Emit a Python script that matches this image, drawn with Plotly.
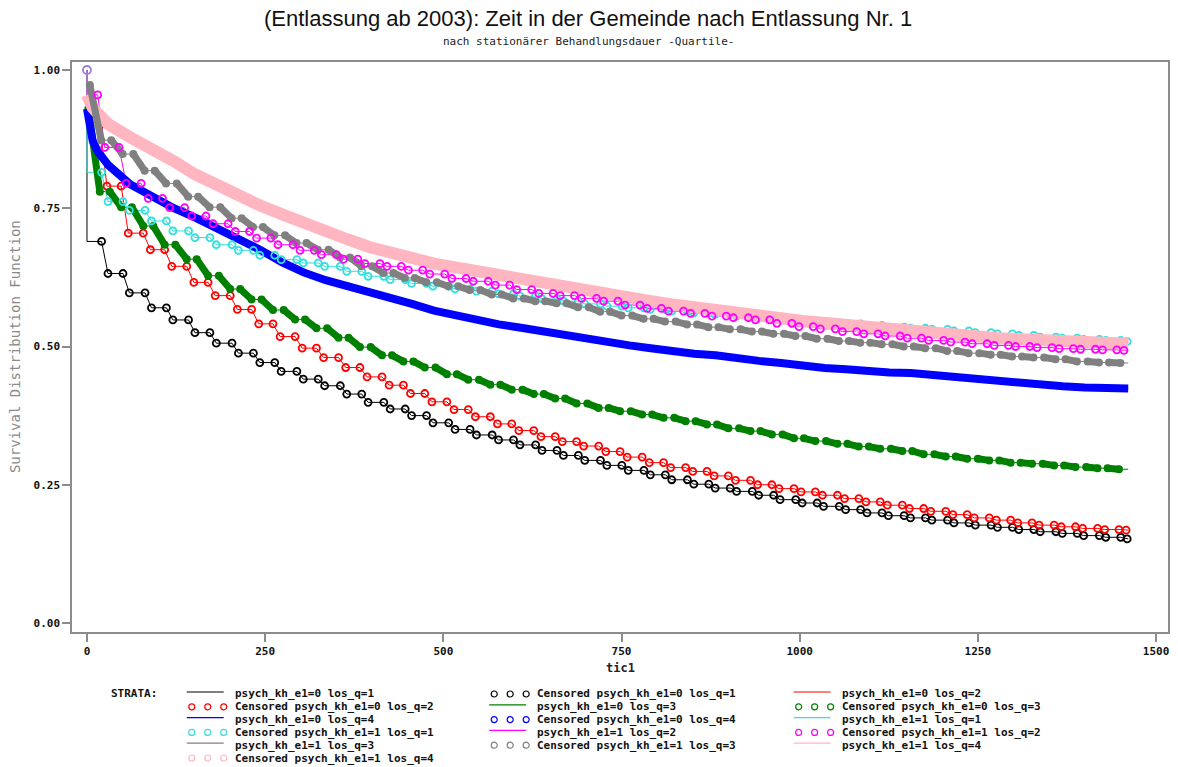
import plotly.graph_objects as go

# Follow-up grid in days (month ends, 4 years)
month_end = [0, 30, 61, 91, 122, 152, 183, 213, 243, 274, 304, 335, 365, 396, 426,
             456, 487, 517, 548, 578, 609, 639, 669, 700, 730, 761, 791, 822, 852,
             882, 913, 943, 974, 1004, 1035, 1065, 1095, 1126, 1156, 1187, 1217,
             1248, 1278, 1308, 1339, 1369, 1400, 1430, 1461]

# Kaplan-Meier survival level after each monthly step (index 0 = level right after t=0)
surv_e0_q1 = [0.690, 0.632, 0.597, 0.570, 0.548, 0.525, 0.506, 0.488, 0.471, 0.455,
              0.441, 0.429, 0.414, 0.399, 0.387, 0.375, 0.362, 0.350, 0.340, 0.331,
              0.322, 0.312, 0.303, 0.294, 0.285, 0.276, 0.268, 0.259, 0.251, 0.244,
              0.238, 0.231, 0.223, 0.217, 0.211, 0.205, 0.199, 0.194, 0.190, 0.186,
              0.181, 0.177, 0.173, 0.169, 0.165, 0.162, 0.158, 0.155, 0.152]
surv_e0_q2 = [0.900, 0.790, 0.705, 0.675, 0.645, 0.616, 0.592, 0.567, 0.541, 0.518,
              0.497, 0.480, 0.462, 0.445, 0.430, 0.415, 0.400, 0.386, 0.373, 0.360,
              0.348, 0.337, 0.328, 0.320, 0.310, 0.300, 0.290, 0.281, 0.274, 0.266,
              0.258, 0.250, 0.243, 0.237, 0.231, 0.225, 0.219, 0.213, 0.207, 0.202,
              0.196, 0.190, 0.186, 0.181, 0.177, 0.174, 0.171, 0.169, 0.168]
surv_e0_q3 = [0.930, 0.780, 0.752, 0.718, 0.684, 0.658, 0.628, 0.604, 0.585, 0.566,
              0.549, 0.533, 0.516, 0.499, 0.484, 0.473, 0.462, 0.450, 0.440, 0.431,
              0.422, 0.414, 0.406, 0.397, 0.389, 0.383, 0.377, 0.371, 0.365, 0.359,
              0.352, 0.347, 0.341, 0.334, 0.329, 0.324, 0.319, 0.315, 0.311, 0.305,
              0.301, 0.297, 0.294, 0.290, 0.288, 0.285, 0.282, 0.280, 0.278]
surv_e1_q1 = [0.815, 0.762, 0.746, 0.727, 0.709, 0.697, 0.684, 0.674, 0.665, 0.657,
              0.651, 0.645, 0.636, 0.627, 0.621, 0.614, 0.609, 0.604, 0.600, 0.595,
              0.591, 0.586, 0.582, 0.577, 0.573, 0.570, 0.567, 0.564, 0.561, 0.558,
              0.555, 0.552, 0.549, 0.546, 0.543, 0.541, 0.538, 0.535, 0.533, 0.531,
              0.528, 0.525, 0.523, 0.520, 0.517, 0.515, 0.513, 0.511, 0.509]
surv_e1_q2 = [0.955, 0.860, 0.795, 0.768, 0.751, 0.736, 0.722, 0.708, 0.696, 0.684,
              0.674, 0.666, 0.658, 0.650, 0.645, 0.638, 0.631, 0.623, 0.618, 0.611,
              0.603, 0.596, 0.592, 0.587, 0.582, 0.575, 0.569, 0.564, 0.560, 0.555,
              0.552, 0.548, 0.542, 0.536, 0.532, 0.527, 0.523, 0.519, 0.515, 0.511,
              0.508, 0.505, 0.502, 0.500, 0.498, 0.496, 0.495, 0.494, 0.493]
surv_e1_q3 = [0.973, 0.873, 0.848, 0.818, 0.795, 0.771, 0.752, 0.732, 0.716, 0.701,
              0.687, 0.675, 0.661, 0.645, 0.633, 0.624, 0.616, 0.609, 0.602, 0.594,
              0.587, 0.582, 0.578, 0.571, 0.563, 0.556, 0.550, 0.545, 0.540, 0.535,
              0.531, 0.527, 0.523, 0.519, 0.514, 0.510, 0.507, 0.504, 0.500, 0.497,
              0.492, 0.488, 0.485, 0.482, 0.480, 0.477, 0.473, 0.471, 0.470]

# Strata with near-continuous censoring: survival on a finer day grid
band_days = [0, 4, 8, 15, 22, 30, 61, 91, 122, 152, 183, 213, 243, 274, 304, 335,
             365, 396, 426, 456, 487, 517, 548, 578, 609, 639, 669, 700, 730, 761,
             791, 822, 852, 882, 913, 943, 974, 1004, 1035, 1065, 1095, 1126, 1156,
             1187, 1217, 1248, 1278, 1308, 1339, 1369, 1400, 1430, 1461]
surv_e0_q4 = [0.930, 0.895, 0.872, 0.853, 0.842, 0.828, 0.793, 0.770, 0.750, 0.733,
              0.714, 0.696, 0.675, 0.652, 0.634, 0.620, 0.610, 0.600, 0.588, 0.577,
              0.565, 0.556, 0.547, 0.540, 0.534, 0.527, 0.522, 0.515, 0.508, 0.502,
              0.497, 0.491, 0.487, 0.484, 0.478, 0.474, 0.470, 0.465, 0.461, 0.459,
              0.455, 0.453, 0.452, 0.448, 0.445, 0.441, 0.438, 0.434, 0.431, 0.428,
              0.426, 0.425, 0.424]
surv_e1_q4 = [0.955, 0.940, 0.932, 0.922, 0.912, 0.902, 0.878, 0.858, 0.835, 0.811,
              0.791, 0.770, 0.755, 0.739, 0.723, 0.710, 0.694, 0.680, 0.669, 0.659,
              0.650, 0.643, 0.636, 0.628, 0.620, 0.611, 0.605, 0.599, 0.592, 0.587,
              0.582, 0.576, 0.570, 0.565, 0.561, 0.557, 0.551, 0.546, 0.542, 0.539,
              0.536, 0.533, 0.529, 0.525, 0.522, 0.519, 0.515, 0.513, 0.511, 0.509,
              0.507, 0.506, 0.505]

x_ticks = [0, 250, 500, 750, 1000, 1250, 1500]
y_ticks = [0.0, 0.25, 0.50, 0.75, 1.0]
y_tick_text = ["0.00", "0.25", "0.50", "0.75", "1.00"]

legend_labels = [
    "psych_kh_e1=0 los_q=1", "Censored psych_kh_e1=0 los_q=1", "psych_kh_e1=0 los_q=2",
    "Censored psych_kh_e1=0 los_q=2", "psych_kh_e1=0 los_q=3", "Censored psych_kh_e1=0 los_q=3",
    "psych_kh_e1=0 los_q=4", "Censored psych_kh_e1=0 los_q=4", "psych_kh_e1=1 los_q=1",
    "Censored psych_kh_e1=1 los_q=1", "psych_kh_e1=1 los_q=2", "Censored psych_kh_e1=1 los_q=2",
    "psych_kh_e1=1 los_q=3", "Censored psych_kh_e1=1 los_q=3", "psych_kh_e1=1 los_q=4",
    "Censored psych_kh_e1=1 los_q=4",
]

# ---- styling ----
C_BLACK, C_RED, C_GREEN, C_BLUE = "#000000", "#ff0000", "#008000", "#0000ff"
C_CYAN, C_MAG, C_GRAY, C_PINK = "#33dede", "#ff00ff", "#808080", "#ffb6c1"
AXIS_GRAY = "#8c8c8c"
MONO = "DejaVu Sans Mono"

step_strata = [
    # survival, colour, descent centre offset (days), descent width (days), censor look
    (surv_e0_q1, C_BLACK, 25, 9, "circle"),
    (surv_e0_q2, C_RED, 23, 10, "circle"),
    (surv_e0_q3, C_GREEN, 10, 16, "blob"),
    (surv_e1_q1, C_CYAN, 25, 9, "circle"),
    (surv_e1_q2, C_MAG, 20, 10, "circle"),
    (surv_e1_q3, C_GRAY, 12, 16, "blob"),
]


def step_path(surv, lag, width):
    xs, ys = [0, 0], [1.0, surv[0]]
    drops = []
    for k in range(1, len(surv)):
        c = month_end[k - 1] + lag
        a = max(c - width / 2, xs[-1])
        b = c + width / 2
        xs += [a, b]
        ys += [surv[k - 1], surv[k]]
        drops.append((a, b, surv[k - 1], surv[k]))
    if xs[-1] < month_end[-1]:
        xs.append(month_end[-1])
        ys.append(surv[-1])
    return xs, ys, drops


fig = go.Figure()
paths = [step_path(s, lag, w) for s, _, lag, w, _ in step_strata]

# survival step lines
for (xs, ys, _), (_, col, _, _, _) in zip(paths, step_strata):
    fig.add_trace(go.Scatter(x=xs, y=ys, mode="lines", line=dict(color=col, width=1),
                             hoverinfo="skip"))
fig.add_trace(go.Scatter(x=[0] + band_days, y=[1.0] + surv_e0_q4, mode="lines",
                         line=dict(color=C_BLUE, width=1), hoverinfo="skip"))
fig.add_trace(go.Scatter(x=[0] + band_days, y=[1.0] + surv_e1_q4, mode="lines",
                         line=dict(color=C_PINK, width=1), hoverinfo="skip"))


def censor_trace(drops, col, look):
    if look == "circle":
        xs, ys = [], []
        for a, b, s0, s1 in drops:
            xs += [a, b]
            ys += [s0, s1]
        return go.Scatter(x=xs, y=ys, mode="markers",
                          marker=dict(symbol="circle-open", size=7, color=col,
                                      line=dict(width=1.8, color=col)),
                          hoverinfo="skip")
    xs, ys = [], []
    for a, b, s0, s1 in drops:
        xs += [a, b, None]
        ys += [s0, s1, None]
    return go.Scatter(x=xs, y=ys, mode="lines+markers", line=dict(color=col, width=7),
                      marker=dict(symbol="circle", size=8, color=col), hoverinfo="skip")


for i in (0, 1, 2):
    fig.add_trace(censor_trace(paths[i][2], step_strata[i][1], step_strata[i][4]))
# dense censoring for e1=0 los_q=4
fig.add_trace(go.Scatter(x=band_days, y=surv_e0_q4, mode="lines",
                         line=dict(color=C_BLUE, width=8), hoverinfo="skip"))
fig.add_trace(censor_trace(paths[3][2], C_CYAN, "circle"))
fig.add_trace(go.Scatter(x=band_days, y=surv_e1_q4, mode="lines",
                         line=dict(color=C_PINK, width=12), hoverinfo="skip"))
fig.add_trace(censor_trace(paths[5][2], C_GRAY, "blob"))
fig.add_trace(censor_trace(paths[4][2], C_MAG, "circle"))
fig.add_trace(go.Scatter(x=[0], y=[1.0], mode="markers",
                         marker=dict(symbol="circle-open", size=8, color="#9a7fd6",
                                     line=dict(width=1.8, color="#9a7fd6")),
                         hoverinfo="skip"))

# ---- page geometry helpers (plot area 72..1170 x 62..632 px) ----
L, R, T, B = 72, 1170, 62, 632


def px(x):
    return (x - L) / (R - L)


def py(y):
    return (B - y) / (B - T)


ann = []
shapes = []
ann.append(dict(text="(Entlassung ab 2003): Zeit in der Gemeinde nach Entlassung Nr. 1",
                x=px(589), y=py(19), xref="paper", yref="paper", showarrow=False,
                xanchor="center", yanchor="middle",
                font=dict(family="Liberation Sans Narrow, Liberation Sans", size=22,
                          color="#111111")))
ann.append(dict(text="nach stationärer Behandlungsdauer -Quartile-",
                x=px(589), y=py(41), xref="paper", yref="paper", showarrow=False,
                xanchor="center", yanchor="middle",
                font=dict(family=MONO, size=11, color="#222222")))
ann.append(dict(text="Survival Distribution Function", textangle=-90,
                x=px(15), y=py(347), xref="paper", yref="paper", showarrow=False,
                xanchor="center", yanchor="middle",
                font=dict(family=MONO, size=14, color="#8a8a8a")))
ann.append(dict(text="tic1", x=px(621), y=py(668), xref="paper", yref="paper",
                showarrow=False, xanchor="center", yanchor="middle",
                font=dict(family=MONO, size=12, color="#222222", weight="bold")))

# legend block
LEG_FONT = dict(family=MONO, size=11, color="#111111", weight="bold")
ROW0, ROW_STEP = 694, 12.8
ann.append(dict(text="STRATA:", x=px(110), y=py(ROW0), xref="paper", yref="paper",
                showarrow=False, xanchor="left", yanchor="middle", font=LEG_FONT,
                borderpad=0))
legend_cols = [234, 537, 842]
legend_colors = [C_BLACK, C_BLACK, C_RED, C_RED, C_GREEN, C_GREEN, C_BLUE, C_BLUE,
                 C_CYAN, C_CYAN, C_MAG, C_MAG, C_GRAY, C_GRAY, C_PINK, C_PINK]
for i, lab in enumerate(legend_labels):
    row, col = divmod(i, 3)
    tx = legend_cols[col]
    ty = ROW0 + row * ROW_STEP
    ann.append(dict(text=lab, x=px(tx), y=py(ty), xref="paper", yref="paper",
                    showarrow=False, xanchor="left", yanchor="middle", font=LEG_FONT,
                    borderpad=0))
    c = legend_colors[i]
    if lab.startswith("Censored"):
        for dx in (-42, -26, -10):
            shapes.append(dict(type="circle", xref="paper", yref="paper",
                               xsizemode="pixel", ysizemode="pixel",
                               xanchor=px(tx + dx), yanchor=py(ty),
                               x0=-3, x1=3, y0=-3, y1=3,
                               line=dict(color=c, width=1.2)))
    else:
        shapes.append(dict(type="line", xref="paper", yref="paper",
                           x0=px(tx - 47), x1=px(tx - 10), y0=py(ty - 2), y1=py(ty - 2),
                           line=dict(color=c, width=1.2)))

axis_common = dict(showgrid=False, zeroline=False, showline=True, linecolor=AXIS_GRAY,
                   linewidth=1.5, mirror=True, ticks="outside", ticklen=8,
                   tickwidth=1.5, tickcolor=AXIS_GRAY,
                   tickfont=dict(family=MONO, size=11, color="#111111", weight="bold"))

fig.update_layout(
    width=1178, height=767,
    margin=dict(l=L, r=1178 - R, t=T, b=767 - B, pad=0),
    paper_bgcolor="white", plot_bgcolor="white",
    showlegend=False,
    xaxis=dict(range=[-21.0, 1516.8], tickvals=x_ticks, **axis_common),
    yaxis=dict(range=[-0.0163, 1.0145], tickvals=y_ticks, ticktext=y_tick_text,
               **axis_common),
    annotations=ann,
    shapes=shapes,
)

fig.write_html("out.html")
